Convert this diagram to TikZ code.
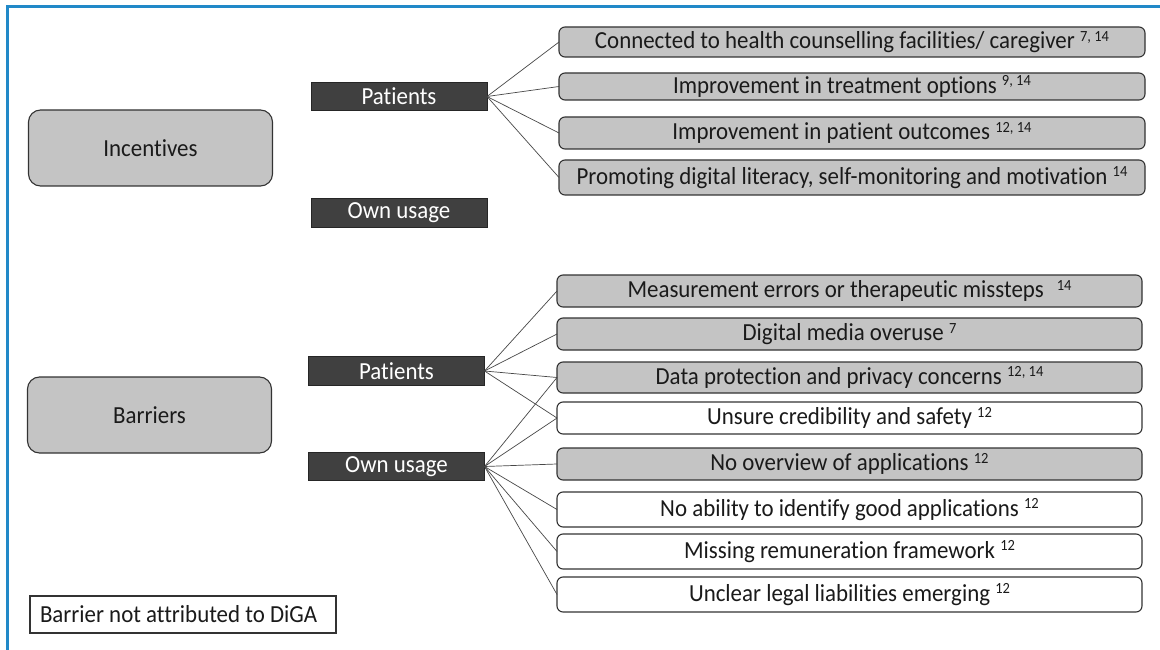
\documentclass[tikz,border=0pt]{standalone}
\usepackage{fontspec}
\setmainfont{Carlito}[Ligatures=NoCommon, FakeStretch=0.935]
\definecolor{boxgray}{HTML}{C4C4C4}
\definecolor{edgegray}{HTML}{333333}
\definecolor{darkbar}{HTML}{404040}
\definecolor{frameblue}{HTML}{2189C8}
\definecolor{inktext}{HTML}{1A1A1A}
% reference numbers set small and raised
\newcommand{\refs}[1]{\raisebox{7.5pt}{\fontsize{15.5}{15.5}\selectfont #1}}
\begin{document}
\begin{tikzpicture}[x=1pt,y=-1pt,
  font=\fontsize{24.5}{27}\selectfont, text=inktext,
  every node/.style={inner sep=0pt, outer sep=0pt},
  mainbox/.style={draw=edgegray, line width=1.1pt, fill=boxgray, rounded corners=12pt,
    minimum width=244pt, minimum height=76pt},
  groupbar/.style={draw=black!85, line width=0.6pt, fill=darkbar, text=white,
    minimum width=176pt, minimum height=28.5pt},
  itembox/.style={draw=edgegray, line width=1.1pt, fill=boxgray, rounded corners=6pt,
    minimum width=586pt},
  plainbox/.style={itembox, fill=white},
  link/.style={draw=edgegray!90, line width=0.7pt},
  frameline/.style={draw=frameblue, line width=2.8pt}
]
\useasboundingbox (0,0) rectangle (1160,650);
\fill[white] (0,0) rectangle (1160,650);

% blue frame along top and left
\coordinate (fbl) at (7.3,652);
\coordinate (ftl) at (7.3,6.8);
\coordinate (ftr) at (1162,6.8);
\draw[frameline] (fbl) -- (ftl) -- (ftr);

% ---- incentives ----
\node[mainbox] (inc) at (150.5,148) {Incentives};
\node[groupbar] (incpat) at (399,96.5) {Patients};
\node[groupbar] (incown) at (399,213) {Own usage};

\node[itembox, minimum height=30pt] (t1) at (852,42) {Connected to health counselling facilities/ caregiver \refs{7, 14}};
\node[itembox, minimum height=27pt] (t2) at (852,86.5) {Improvement in treatment options \refs{9, 14}};
\node[itembox, minimum height=32pt] (t3) at (852,133) {Improvement in patient outcomes \refs{12, 14}};
\node[itembox, minimum height=35pt] (t4) at (852,177.5) {Promoting digital literacy, self-monitoring and motivation \refs{14}};

\foreach \t in {t1,t2,t3,t4}
  \draw[link] (incpat.east) -- (\t.west);

% ---- barriers ----
\node[mainbox] (bar) at (149.5,415) {Barriers};
\node[groupbar] (barpat) at (396.5,371) {Patients};
\node[groupbar] (barown) at (396.5,466.5) {Own usage};

\node[itembox, minimum width=585pt, minimum height=32pt] (b1) at (849.5,291) {Measurement errors or therapeutic missteps\hspace{13pt}\refs{14}};
\node[itembox, minimum width=585pt, minimum height=32pt] (b2) at (849.5,334) {Digital media overuse \refs{7}};
\node[itembox, minimum width=585pt, minimum height=31pt] (b3) at (849.5,377.5) {Data protection and privacy concerns \refs{12, 14}};
\node[plainbox, minimum width=585pt, minimum height=32pt] (b4) at (849.5,418) {Unsure credibility and safety \refs{12}};
\node[itembox, minimum width=585pt, minimum height=32pt] (b5) at (849.5,464) {No overview of applications \refs{12}};
\node[plainbox, minimum width=585pt, minimum height=35pt] (b6) at (849.5,509.5) {No ability to identify good applications \refs{12}};
\node[plainbox, minimum width=585pt, minimum height=35pt] (b7) at (849.5,551.5) {Missing remuneration framework \refs{12}};
\node[plainbox, minimum width=585pt, minimum height=35pt] (b8) at (849.5,594.5) {Unclear legal liabilities emerging \refs{12}};

\foreach \b in {b1,b2,b3,b4}
  \draw[link] (barpat.east) -- (\b.west);
\foreach \b in {b3,b4,b5,b6,b7,b8}
  \draw[link] (barown.east) -- (\b.west);

% ---- legend ----
\node[draw=edgegray, line width=1.1pt, fill=white, minimum width=306pt, minimum height=37pt]
  (legend) at (183,614.5) {};
\node[anchor=west] (legendtext) at ([xshift=10pt]legend.west) {Barrier not attributed to DiGA};
\end{tikzpicture}
\end{document}
